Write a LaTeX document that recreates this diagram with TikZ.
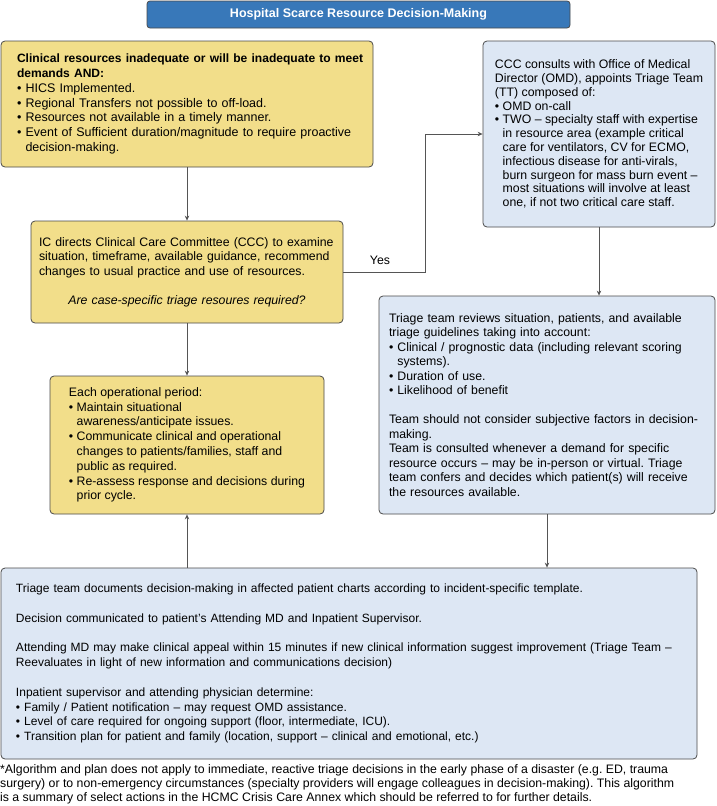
\documentclass[tikz,border=0pt]{standalone}
\usepackage{fontspec}
\setmainfont{Liberation Sans}
\usetikzlibrary{arrows.meta}
\definecolor{yfill}{HTML}{F2DE8A}
\definecolor{bfill}{HTML}{DDE7F4}
\definecolor{tfill}{HTML}{3878B9}
\definecolor{bordc}{HTML}{4A4A4A}
\definecolor{linec}{HTML}{555555}
\newcommand{\bu}{\textbullet\ }
\newcommand{\ind}{\hphantom{\textbullet\ }}
\newcommand{\bt}[1]{{\fontsize{12.05}{14.7}\selectfont\bfseries #1}}
\frenchspacing
\begin{document}
\frenchspacing
\begin{tikzpicture}[x=1pt,y=-1pt,
  box/.style={draw=bordc, line width=0.8pt, rounded corners=4pt, inner ysep=0pt, inner xsep=0pt, align=left,
    font=\fontsize{12.3}{14.5}\selectfont\frenchspacing},
  ybox/.style={box, fill=yfill},
  bbox/.style={box, fill=bfill},
  arr/.style={draw=linec, line width=0.8pt, -{Stealth[length=5pt,width=4.5pt]}},
  lab/.style={font=\fontsize{12.3}{14.5}\selectfont\frenchspacing, inner sep=0pt}]
\useasboundingbox (0,0) rectangle (716,806);
\fill[white] (0,0) rectangle (716,806);

\node[draw=bordc, fill=tfill, line width=0.8pt, rounded corners=3pt, minimum width=423, minimum height=27,
  inner sep=0pt, text=white, font=\fontsize{12.5}{14}\selectfont\bfseries] (title) at (358.5,14.5)
  {Hospital Scarce Resource Decision-Making};

\node[ybox, minimum width=372, minimum height=126, text width=340, font=\fontsize{12.5}{14.7}\selectfont] (b1) at (187,104)
  {\mbox{\bt{Clinical resources inadequate or will be inadequate to meet}}\\
   \bt{demands AND:}\\
   \bu HICS Implemented.\\
   \bu Regional Transfers not possible to off-load.\\
   \bu Resources not available in a timely manner.\\
   \mbox{\bu Event of Sufficient duration/magnitude to require proactive}\\
   \ind decision-making.};

\node[bbox, minimum width=232, minimum height=186, font=\fontsize{12.3}{13.8}\selectfont] (b3) at (599,134)
  {CCC consults with Office of Medical\\
   Director (OMD), appoints Triage Team\\
   (TT) composed of:\\
   \bu OMD on-call\\
   \bu TWO – specialty staff with expertise\\
   \ind in resource area (example critical\\
   \ind care for ventilators, CV for ECMO,\\
   \ind infectious disease for anti-virals,\\
   \ind burn surgeon for mass burn event –\\
   \ind most situations will involve at least\\
   \ind one, if not two critical care staff.};

\node[ybox, minimum width=312, minimum height=102, text width=296] (b2) at (187,272)
  {IC directs Clinical Care Committee (CCC) to examine\\
   situation, timeframe, available guidance, recommend\\
   changes to usual practice and use of resources.\\[14.5pt]
   \makebox[\hsize][c]{\itshape Are case-specific triage resoures required?}};

\node[bbox, minimum width=336, minimum height=218, text width=316] (b4) at (547,405)
  {Triage team reviews situation, patients, and available\\
   triage guidelines taking into account:\\
   \bu Clinical / prognostic data (including relevant scoring\\
   \ind systems).\\
   \bu Duration of use.\\
   \bu Likelihood of benefit\\[14.5pt]
   \mbox{Team should not consider subjective factors in decision-}\\
   making.\\
   Team is consulted whenever a demand for specific\\
   resource occurs – may be in-person or virtual. Triage\\
   team confers and decides which patient(s) will receive\\
   the resources available.};

\node[ybox, minimum width=274, minimum height=138, font=\fontsize{12.3}{14.8}\selectfont] (b5) at (187,445)
  {Each operational period:\\
   \bu Maintain situational\\
   \ind awareness/anticipate issues.\\
   \bu Communicate clinical and operational\\
   \ind changes to patients/families, staff and\\
   \ind public as required.\\
   \bu Re-assess response and decisions during\\
   \ind prior cycle.};

\node[bbox, minimum width=696, minimum height=191, text width=666, font=\fontsize{12}{14.8}\selectfont] (b6) at (349,663.5)
  {Triage team documents decision-making in affected patient charts according to incident-specific template.\\[14.8pt]
   Decision communicated to patient’s Attending MD and Inpatient Supervisor.\\[14.8pt]
   \mbox{Attending MD may make clinical appeal within 15 minutes if new clinical information suggest improvement (Triage Team –}\\
   Reevaluates in light of new information and communications decision)\\[14.8pt]
   Inpatient supervisor and attending physician determine:\\
   \bu Family / Patient notification – may request OMD assistance.\\
   \bu Level of care required for ongoing support (floor, intermediate, ICU).\\
   \bu Transition plan for patient and family (location, support – clinical and emotional, etc.)};

\node[lab, anchor=west, align=left, font=\fontsize{12.3}{14}\selectfont] (fn) at (0,784)
  {*Algorithm and plan does not apply to immediate, reactive triage decisions in the early phase of a disaster (e.g. ED, trauma\\
   surgery) or to non-emergency circumstances (specialty providers will engage colleagues in decision-making). This algorithm\\
   is a summary of select actions in the HCMC Crisis Care Annex which should be referred to for further details.};

\coordinate (yk) at (425,272);
\draw[arr] (b1.south) -- (b2.north);
\draw[arr] (b2.east) -- (yk) |- (b3.west);
\node[lab] (yes) at (380,260) {Yes};
\draw[arr] (b2.south) -- (b5.north);
\draw[arr] (b6.north -| b5.south) -- (b5.south);
\draw[arr] (b3.south) -- (b4.north -| b3.south);
\draw[arr] (b4.south) -- (b6.north -| b4.south);
\end{tikzpicture}
\end{document}
